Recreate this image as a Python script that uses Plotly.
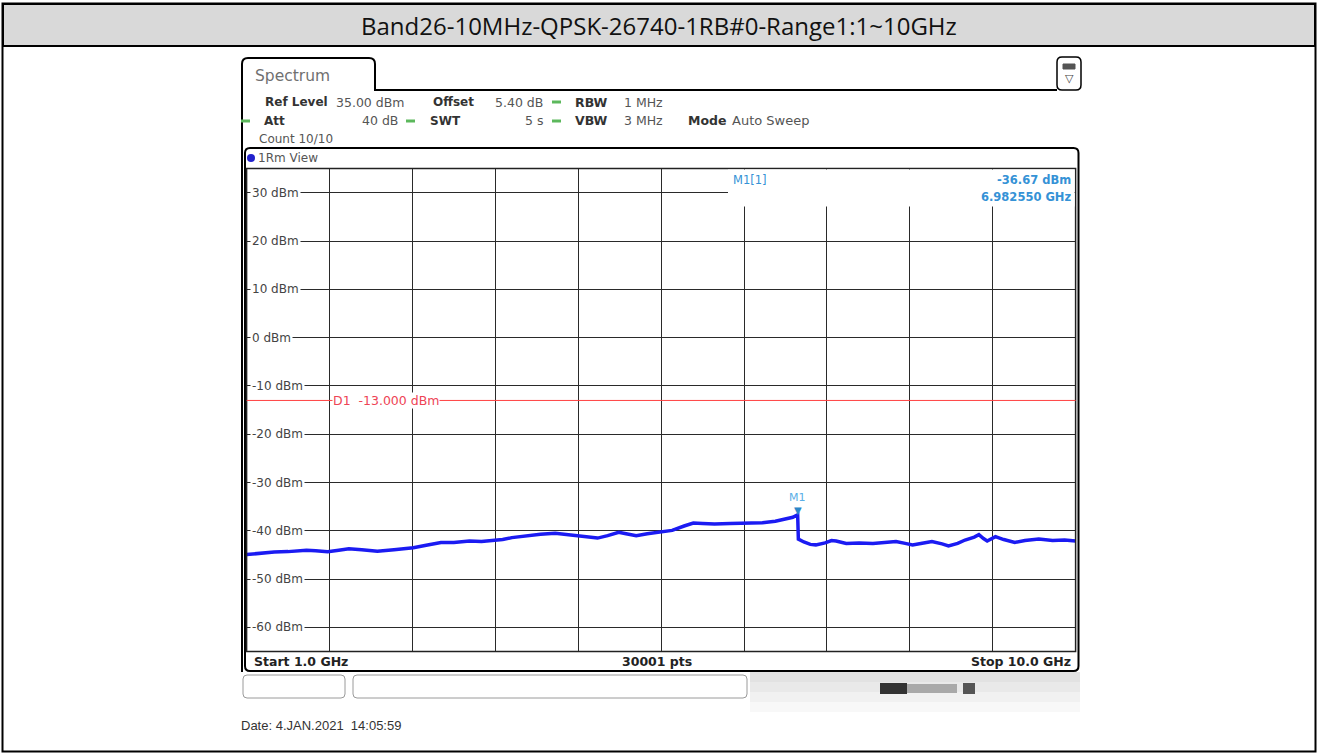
import plotly.graph_objects as go

# ---------------- data ----------------
title_text = "Band26-10MHz-QPSK-26740-1RB#0-Range1:1~10GHz"

freq_ghz = [1.00, 1.15, 1.30, 1.45, 1.65, 1.75, 1.88, 2.00, 2.11, 2.25, 2.42, 2.60, 2.81, 2.95,
            3.11, 3.25, 3.42, 3.55, 3.65, 3.78, 3.88, 4.05, 4.19, 4.35, 4.45, 4.54, 4.70, 4.81,
            4.92, 5.04, 5.12, 5.23, 5.35, 5.50, 5.62, 5.75, 5.85, 5.95, 6.08, 6.25, 6.43, 6.60,
            6.74, 6.85, 6.93, 6.98255, 6.990, 7.05, 7.12, 7.18, 7.28, 7.35, 7.40, 7.51, 7.65,
            7.80, 7.95, 8.05, 8.15, 8.23, 8.35, 8.44, 8.55, 8.62, 8.72, 8.80, 8.90, 8.95, 9.00,
            9.04, 9.13, 9.22, 9.34, 9.45, 9.60, 9.75, 9.88, 10.00]
level_dbm = [-44.9, -44.6, -44.4, -44.3, -44.0, -44.1, -44.3, -44.0, -43.7, -43.9, -44.2, -43.9,
             -43.5, -43.0, -42.4, -42.4, -42.1, -42.2, -42.0, -41.8, -41.4, -41.0, -40.7, -40.5,
             -40.7, -41.0, -41.2, -41.5, -41.0, -40.3, -40.6, -41.0, -40.6, -40.3, -39.9, -39.0,
             -38.4, -38.5, -38.6, -38.5, -38.4, -38.3, -38.0, -37.6, -37.2, -36.67, -41.7, -42.3,
             -42.8, -42.9, -42.5, -42.0, -42.1, -42.6, -42.5, -42.6, -42.4, -42.2, -42.6, -42.9,
             -42.5, -42.2, -42.7, -43.1, -42.6, -41.9, -41.3, -40.8, -41.6, -42.1, -41.2, -41.8,
             -42.4, -42.0, -41.7, -42.0, -41.9, -42.1]

start_ghz = 1.0
stop_ghz = 10.0
ref_level = 35.0
bottom_level = -65.0
ytick_vals = [30, 20, 10, 0, -10, -20, -30, -40, -50, -60]
ytick_text = ["30 dBm", "20 dBm", "10 dBm", "0 dBm", "-10 dBm", "-20 dBm", "-30 dBm",
              "-40 dBm", "-50 dBm", "-60 dBm"]
d1_level = -13.0
d1_text = "D1  -13.000 dBm"
m1_freq = 6.98255
m1_level = -36.67
m1_text_level = "-36.67 dBm"
m1_text_freq = "6.982550 GHz"

# ---------------- geometry helpers ----------------
W, H = 1318, 753
def X(p):
    return p / W
def Y(p):
    return 1 - p / H

PL, PR, PT, PB = 246.6, 1075.6, 168.6, 651.6

FONT = "DejaVu Sans"
BLUE_TXT = "#3592d6"
shapes = []
ann = []

def rect(x0, y0, x1, y1, fill=None, color="black", width=1, layer="above"):
    shapes.append(dict(type="rect", xref="paper", yref="paper", x0=X(x0), y0=Y(y0),
                       x1=X(x1), y1=Y(y1), fillcolor=fill or "rgba(0,0,0,0)",
                       line=dict(color=color, width=width), layer=layer))

def rrect(x0, y0, x1, y1, r, color="black", width=1, fill=None):
    p = (f"M {X(x0+r)},{Y(y0)} L {X(x1-r)},{Y(y0)} Q {X(x1)},{Y(y0)} {X(x1)},{Y(y0+r)} "
         f"L {X(x1)},{Y(y1-r)} Q {X(x1)},{Y(y1)} {X(x1-r)},{Y(y1)} "
         f"L {X(x0+r)},{Y(y1)} Q {X(x0)},{Y(y1)} {X(x0)},{Y(y1-r)} "
         f"L {X(x0)},{Y(y0+r)} Q {X(x0)},{Y(y0)} {X(x0+r)},{Y(y0)} Z")
    shapes.append(dict(type="path", xref="paper", yref="paper", path=p,
                       fillcolor=fill or "rgba(0,0,0,0)", line=dict(color=color, width=width)))

def txt(x, y, s, size=12, color="#333333", anchor="left", family=FONT):
    ann.append(dict(xref="paper", yref="paper", x=X(x), y=Y(y), text=s, showarrow=False,
                    xanchor=anchor, yanchor="middle",
                    font=dict(family=family, size=size, color=color)))

# ---------------- figure ----------------
fig = go.Figure()
fig.add_trace(go.Scatter(x=freq_ghz, y=level_dbm, mode="lines",
                         line=dict(color="#1b1bf2", width=3.5), hoverinfo="skip"))

# status area below (soft gradient background)
for (y0, y1, c) in [(672, 682, "#e2e2e2"), (682, 692, "#e9e9e9"), (692, 702, "#f1f1f1"),
                    (702, 712, "#f8f8f8")]:
    rect(750, y0, 1080, y1, fill=c, color=c, width=0)

# outer page frame and title bar
rect(3, 4, 1315, 46, fill="#d9d9d9", color="black", width=2)
rect(2.5, 3.5, 1315.5, 751.5, color="black", width=2)
txt(659, 26, title_text, size=24, color="#111111", anchor="center", family="Open Sans")

# instrument tab + header
p = (f"M {X(242)},{Y(672)} L {X(242)},{Y(64)} Q {X(242)},{Y(58)} {X(248)},{Y(58)} "
     f"L {X(369)},{Y(58)} Q {X(375)},{Y(58)} {X(375)},{Y(64)} L {X(375)},{Y(90)} L {X(1057)},{Y(90)}")
shapes.append(dict(type="path", xref="paper", yref="paper", path=p, line=dict(color="black", width=2)))
txt(253, 76, "Spectrum", size=15.5, color="#707070")
rrect(1057, 57, 1081, 90, 5, color="black", width=1.5)
rect(1063, 64, 1075, 69, fill="#555555", color="#555555", width=1)
txt(1069, 78, "▽", size=11, color="#444444", anchor="center")

# header settings
GREEN = "#5cb85c"
def mark(x0, y):
    rect(x0, y - 1.5, x0 + 9, y + 1.5, fill=GREEN, color=GREEN, width=0)

txt(263, 102, "<b>Ref Level</b>")
txt(334, 102, "35.00 dBm", size=12.5, color="#555555")
txt(431, 102, "<b>Offset</b>")
txt(545, 102, "5.40 dB", size=12.5, color="#555555", anchor="right")
mark(552, 102)
txt(573, 102, "<b>RBW</b>", size=12.5)
txt(622, 102, "1 MHz", size=12.5, color="#555555")

mark(241, 121)
txt(262, 121, "<b>Att</b>")
txt(400, 121, "40 dB", size=12.5, color="#555555", anchor="right")
mark(406, 121)
txt(428, 121, "<b>SWT</b>")
txt(545, 121, "5 s", size=12.5, color="#555555", anchor="right")
mark(552, 121)
txt(573, 121, "<b>VBW</b>", size=12.5)
txt(622, 121, "3 MHz", size=12.5, color="#555555")
txt(686, 121, "<b>Mode</b>", size=12.5)
txt(730, 121, "Auto Sweep", size=13, color="#555555")
txt(257, 139, "Count 10/10", color="#555555")

# view box
rrect(245, 148, 1078.5, 671, 5, color="black", width=2)
shapes.append(dict(type="circle", xref="paper", yref="paper", x0=X(247), y0=Y(154), x1=X(255), y1=Y(162),
                   fillcolor="#2222cc", line=dict(color="#2222cc", width=0)))
txt(256, 158, "1Rm View", color="#555555")

# plot area border
rect(PL, PT, PR, PB, color="#222222", width=1.5)
# marker info box (covers grid top-right)
rect(728, PT + 1, PR - 1, 206.5, fill="white", color="white", width=0)
txt(731, 180, "M1[1]", size=11.5, color=BLUE_TXT)
txt(1073, 180, "<b>" + m1_text_level + "</b>", size=11.5, color=BLUE_TXT, anchor="right")
txt(1073, 197, "<b>" + m1_text_freq + "</b>", size=11.5, color=BLUE_TXT, anchor="right")

# y labels inside plot
for v, t in zip(ytick_vals, ytick_text):
    ann.append(dict(xref="paper", yref="y", x=X(250), y=v, text=t, showarrow=False,
                    xanchor="left", yanchor="middle", bgcolor="white", borderpad=1,
                    font=dict(family=FONT, size=12, color="#444444")))

# D1 display line
shapes.append(dict(type="line", xref="x domain", yref="y", x0=0, x1=1, y0=d1_level, y1=d1_level,
                   line=dict(color="#ff4040", width=1)))
ann.append(dict(xref="paper", yref="y", x=X(332), y=d1_level, text=d1_text, showarrow=False,
                xanchor="left", yanchor="middle", bgcolor="white", borderpad=0,
                font=dict(family=FONT, size=12.5, color="#ee4455")))

# marker M1
ann.append(dict(xref="x", yref="y", x=m1_freq, y=m1_level, text="▼", showarrow=False,
                xanchor="center", yanchor="bottom", yshift=-3,
                font=dict(family=FONT, size=10, color="#2a86c8")))
ann.append(dict(xref="x", yref="y", x=m1_freq, y=m1_level, text="M1", showarrow=False,
                xanchor="center", yanchor="bottom", yshift=9,
                font=dict(family=FONT, size=11, color="#5aaee6")))

# bottom bar
txt(252, 661, "<b>Start 1.0 GHz</b>", size=12.5, color="#222222")
txt(657, 661, "<b>30001 pts</b>", size=12.5, color="#222222", anchor="center")
txt(1073, 661, "<b>Stop 10.0 GHz</b>", size=12.5, color="#222222", anchor="right")

# status boxes below
rrect(243, 675, 345, 698, 4, color="#9a9a9a", width=1)
rrect(353, 675, 747, 698, 4, color="#9a9a9a", width=1)
rect(880, 683, 907, 694, fill="#333333", color="#333333", width=0)
rect(907, 684, 957, 693, fill="#a9a9a9", color="#a9a9a9", width=0)
rect(963, 683, 975, 694, fill="#555555", color="#555555", width=0)

txt(239, 725, "Date: 4.JAN.2021  14:05:59", size=13, color="#333333", family="Liberation Sans")

fig.update_layout(
    width=W, height=H, margin=dict(l=0, r=0, t=0, b=0),
    paper_bgcolor="white", plot_bgcolor="white", showlegend=False,
    shapes=shapes, annotations=ann,
    xaxis=dict(domain=[X(PL), X(PR)], range=[start_ghz, stop_ghz], dtick=0.9, tick0=start_ghz,
               showgrid=True, gridcolor="#2a2a2a", gridwidth=1, showticklabels=False,
               ticks="", zeroline=False, showline=False, fixedrange=True),
    yaxis=dict(domain=[Y(PB), Y(PT)], range=[bottom_level, ref_level], dtick=10, tick0=-60,
               showgrid=True, gridcolor="#2a2a2a", gridwidth=1, showticklabels=False,
               ticks="", zeroline=False, showline=False, fixedrange=True),
)

fig.write_html("out.html", config={"displayModeBar": False},
               post_script="document.body.style.margin='0';document.body.style.overflow='hidden';")
